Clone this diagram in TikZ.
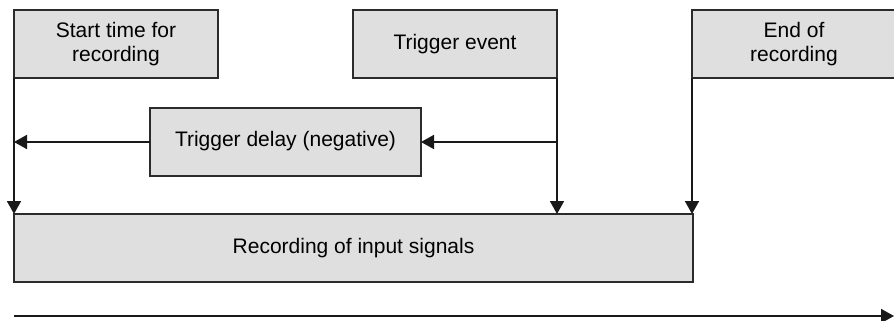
\documentclass[tikz,border=0pt]{standalone}
\usepackage{fontspec}
\setmainfont{Liberation Sans}
\usetikzlibrary{arrows.meta,positioning}
\definecolor{boxfill}{HTML}{DFDFDF}
\definecolor{boxline}{HTML}{2B2B2B}

\begin{document}
\begin{tikzpicture}[
 x=0.5pt,y=-0.5pt,
 node distance=68pt and 67.5pt,
 font=\fontsize{10.5}{12}\selectfont,
 box/.style={draw=boxline,line width=0.7pt,fill=boxfill,align=center,minimum width=102pt,minimum height=34pt,inner sep=0pt,outer sep=0pt},
 arrow/.style={-{Triangle[length=6.5pt,width=7pt]},line width=0.9pt,draw=black!90}
]
\useasboundingbox (0,0) rectangle (894,321);
\clip (0,0) rectangle (894,321);
\node[box] (start) at (116,44) {Start time for\\recording};
\node[box,right=of start] (trigger) {Trigger event};
\node[box,right=of trigger] (stop) {End of\\recording};
\node[box,below right=15pt and 68pt of start.south west,minimum width=135.5pt,text depth=3pt] (delay) {Trigger delay (negative)};
\node[box,below=68pt of start.south west,anchor=north west,minimum width=339.5pt] (rec) {Recording of input signals};
\coordinate (t0) at (14,316);
\coordinate (t1) at (894,316);
\draw[arrow] (start.south west) -- (rec.north west);
\draw[arrow] (trigger.south east) -- (trigger.south east |- rec.north);
\draw[arrow] (stop.south west) -- (stop.south west |- rec.north);
\draw[arrow] (delay.east -| trigger.east) -- (delay.east);
\draw[arrow] (delay.west) -- (delay.west -| start.west);
\draw[arrow] (t0) -- (t1);
\end{tikzpicture}
\end{document}
